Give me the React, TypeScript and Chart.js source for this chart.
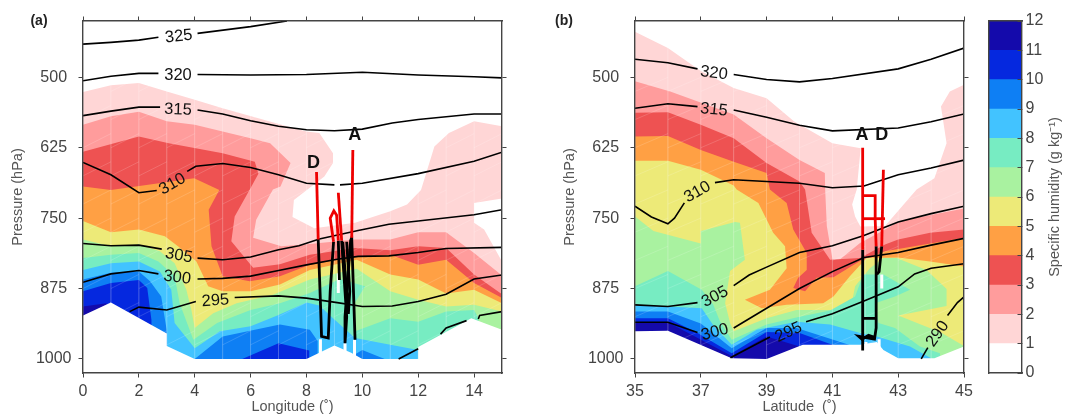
import React, { useEffect, useRef } from "react";
import { Chart, registerables } from "chart.js";

Chart.register(...registerables);

type Pt = [number, number];

// ---------- shared ----------
const pressureTicks = [500, 625, 750, 875, 1000];
const lonTicks = [0, 2, 4, 6, 8, 10, 12, 14];
const latTicks = [35, 37, 39, 41, 43, 45];
const humidityTicks = [0, 1, 2, 3, 4, 5, 6, 7, 8, 9, 10, 11, 12];
const levelColors = ["#ffffff", "#ffd6d6", "#ff9c9c", "#ee5252", "#ffa044", "#edea78", "#a9f2a0", "#77ecc2", "#42c3ff", "#0e7ff4", "#0528df", "#140aab"];
const levelBins = [1, 1, 1, 1, 1, 1, 1, 1, 1, 1, 1, 1];
const meshPressures = [525, 575, 625, 675, 725, 775, 825, 875, 925, 975, 1025];

// ---------- panel a: humidity regions (longitude, hPa) ----------
const aQ1: Pt[] = [[0, 526], [1, 514], [2, 510], [3, 525], [4, 540], [5, 555], [7.3, 587], [8, 596], [8.46, 599], [8.95, 635], [8.95, 652], [8.64, 676], [7.55, 718], [7.5, 748], [8.28, 768], [9.74, 758], [11, 738], [11.6, 726], [12.1, 700], [12.58, 623], [13.1, 599], [14, 578], [15, 587], [15, 715], [14, 723], [14, 758], [14.36, 770], [15, 827], [15, 1025], [0, 1025]];
const aQ2: Pt[] = [[0, 584], [1, 569], [2, 561], [3, 578], [4, 584], [5, 596], [6, 608], [6.7, 617], [7.43, 652], [7.07, 694], [6.8, 699], [6.2, 753], [6.09, 785], [7.1, 800], [8.12, 796], [9.74, 788], [11, 788], [12, 775], [13, 775], [14, 812], [15, 852], [15, 1025], [0, 1025]];
const aQ3: Pt[] = [[0, 632], [2, 605], [3.07, 617], [5, 635], [6.15, 650], [6.28, 671], [5.97, 699], [5.43, 747], [5.31, 791], [6.09, 838], [7.05, 832], [8.12, 815], [9.74, 803], [11, 807], [12, 800], [13, 803], [14, 850], [15, 885], [15, 1025], [0, 1025]];
const aQ4: Pt[] = [[0, 694], [1, 700], [3.98, 679], [4.88, 700], [4.5, 735], [4.6, 800], [5, 853], [5.97, 862], [7.05, 853], [8.12, 833], [9.8, 818], [11, 815], [12, 833], [13, 824], [14, 865], [15, 892], [15, 1025], [0, 1025]];
const aQ5: Pt[] = [[0, 755], [1, 775], [2, 770], [2.93, 782], [3.4, 800], [4.06, 827], [4.48, 871], [5, 880], [6, 880], [7.05, 868], [8.12, 842], [9.8, 824], [11, 850], [12, 859], [13, 884], [14, 877], [15, 901], [15, 1025], [0, 1025]];
const aQ6: Pt[] = [[0, 788], [1, 800], [2, 797], [2.75, 809], [3.28, 830], [3.7, 877], [3.88, 913], [4, 945], [4.66, 919], [5.5, 901], [6.8, 886], [8.12, 859], [9.8, 840], [11, 880], [12, 895], [13, 907], [14, 904], [15, 916], [15, 1025], [0, 1025]];
const aQ7: Pt[] = [[0, 821], [1, 815], [2, 812], [2.7, 827], [3.28, 853], [3.46, 901], [3.95, 966], [4.8, 936], [6, 913], [7.05, 901], [8.12, 883], [9.2, 858], [10.1, 871], [9.74, 900], [9.74, 951], [11, 928], [12, 934], [13, 916], [14, 913], [14.16, 928], [14.16, 1025], [0, 1025]];
const aQ8: Pt[] = [[0, 842], [1, 830], [2, 827], [2.75, 845], [3.16, 877], [3.28, 936], [4, 981], [4.9, 951], [6, 942], [7, 922], [8, 900], [8.46, 905], [9, 930], [9.74, 963], [11, 975], [12, 984], [12, 1025], [0, 1025]];
const aQ9Left: Pt[] = [[0, 859], [1, 847], [2, 845], [2.4, 862], [2.8, 889], [3, 950], [3, 1025], [0, 1025]];
const aQ9Mid: Pt[] = [[4, 1000], [5, 960], [7.05, 939], [8.12, 948], [8.4, 968], [8.4, 1025], [4, 1025]];
const aQ9Right: Pt[] = [[9.7, 993], [10, 984], [10.8, 1000], [10.8, 1025], [9.7, 1025]];
const aQ10Left: Pt[] = [[0, 880], [1, 865], [2, 860], [2.3, 874], [2.45, 931], [2.45, 1025], [0, 1025]];
const aQ10Mid: Pt[] = [[5.7, 1000], [7, 972], [8.1, 985], [8.1, 1025], [5.7, 1025]];
const aQ11: Pt[] = [[0, 907], [0.85, 901], [0.85, 1025], [0, 1025]];
const aTerrain: Pt[] = [[0, 923], [1, 900], [3, 955], [3, 977], [4, 1000], [8, 1000], [8.46, 989], [9, 976], [9.6, 989], [10, 1000], [12, 1000], [12, 979], [13.9, 928], [15, 948], [15, 1025], [0, 1025]];

// ---------- panel a: potential temperature contours ----------
const aT325: Pt[][] = [[[0, 441], [1, 438], [2, 434], [2.7, 429]], [[4.1, 422], [6, 410], [7.3, 400]]];
const aT320: Pt[][] = [[[0, 506], [1, 498], [2, 493], [2.7, 493]], [[4.1, 495], [6, 496], [8, 495], [10, 491], [12, 496], [14, 499], [15, 501]]];
const aT315: Pt[][] = [[[0, 568], [1, 560], [2, 553], [2.76, 553]], [[4.1, 558], [5, 565], [6, 577], [7, 587], [8, 593], [9, 595], [10, 592], [11.07, 581], [12, 575], [14, 565], [15, 565]]];
const aT310: Pt[][] = [[[0, 651], [1, 673], [2, 705], [2.64, 701]], [[3.73, 667], [4.04, 658], [5, 653], [6, 660], [7, 673], [8, 688], [9, 691]], [[9.2, 691], [10, 688], [12, 671], [14, 649], [15, 633]]];
const aT305: Pt[][] = [[[0, 795], [1, 799], [2, 798], [2.82, 805]], [[4.1, 821], [5, 824], [6, 819], [7, 806], [7.73, 799], [8.46, 787], [9.85, 772], [10.95, 761], [12, 755], [14, 744], [15, 735]]];
const aT300: Pt[][] = [[[0, 864], [1, 849], [2, 843], [2.7, 849]], [[4.1, 858], [5, 857], [6, 853], [7, 843], [8, 833], [9.1, 823], [9.85, 818], [10.95, 817], [12, 811], [13, 804], [15, 802]]];
const aT295: Pt[][] = [[[1.67, 916], [2, 908], [3, 913], [4.04, 898]], [[5.43, 891], [7, 888], [8, 892], [9.1, 900], [10, 907], [11.07, 906], [12, 898], [13, 885], [14, 858], [15, 851]]];
const aT290: Pt[][] = [[[11.3, 1000], [12, 982]], [[12.8, 956], [13, 945], [13.73, 932]], [[14.15, 929], [14.2, 923], [15, 916]]];

// ---------- panel a: aircraft tracks ----------
const aRed: Pt[][] = [[[8.36, 668], [8.42, 788]], [[8.97, 792], [8.85, 750], [8.98, 737], [9.08, 745], [9.14, 790]], [[9.14, 705], [9.26, 790]], [[9.66, 629], [9.62, 785]]];
const aBlack: Pt[][] = [[[8.42, 788], [8.5, 900], [8.54, 960], [8.78, 963], [8.85, 880], [8.97, 792]], [[9.14, 790], [9.18, 860]], [[9.26, 790], [9.44, 925], [9.38, 972], [9.38, 925], [9.58, 790], [9.62, 785], [9.74, 966]], [[9.3, 792], [9.5, 920], [9.55, 880], [9.44, 792]]];
const aHalo: Pt[][] = [[[9.14, 848], [9.14, 883]], [[9.14, 690], [9.14, 703]], [[8.5, 965], [8.5, 1000]], [[9.38, 972], [9.38, 1000]], [[9.72, 966], [9.72, 1000]]];

// ---------- panel b: humidity regions (latitude, hPa) ----------
const bQ1: Pt[] = [[35, 419], [36, 448], [37, 489], [38, 519], [39, 537], [39.83, 578], [41, 617], [41.86, 626], [41.74, 699], [41.6, 726], [41.69, 747], [41.85, 765], [42.6, 764], [43.56, 699], [44.1, 679], [44.47, 617], [44.3, 552], [44.57, 525], [45, 513], [45, 1025], [35, 1025]];
const bQ2: Pt[] = [[35, 507], [36.07, 525], [38, 566], [39, 608], [40, 647], [40.77, 670], [40.78, 699], [40.83, 764], [41.03, 833], [41.84, 794], [42.6, 770], [43.05, 755], [45, 733], [45, 1025], [35, 1025]];
const bQ3: Pt[] = [[35, 563], [36, 562], [37, 584], [38, 608], [39, 652], [40, 685], [40.17, 699], [40.37, 776], [40.93, 824], [41.84, 821], [42.6, 797], [43, 788], [43.97, 776], [45, 770], [45, 1025], [35, 1025]];
const bQ4: Pt[] = [[35, 605], [36, 604], [37, 629], [38, 650], [39, 670], [39.1, 699], [39.61, 723], [39.81, 770], [40.22, 812], [40.22, 842], [39.96, 856], [39.81, 874], [40.17, 880], [40.52, 856], [41.03, 855], [41.84, 826], [42.6, 809], [45, 785], [45, 1025], [35, 1025]];
const bQ5: Pt[] = [[35, 648], [36, 648], [37, 664], [38, 692], [38.09, 699], [38.75, 723], [39.2, 776], [39.56, 800], [39.61, 839], [39.1, 877], [38.34, 895], [38.85, 910], [39.61, 904], [40.72, 901], [41.03, 889], [41.53, 853], [42.04, 821], [43, 820], [43.97, 827], [45, 836], [45, 1025], [35, 1025]];
const bQ6: Pt[] = [[35, 747], [35.56, 773], [37, 795], [37, 773], [38.04, 757], [38.19, 758], [38.34, 824], [37.89, 844], [37.74, 901], [37.89, 936], [38, 951], [39, 928], [39.91, 913], [41.23, 913], [41.58, 904], [41.69, 871], [42.14, 839], [42.55, 821], [42.95, 821], [43.86, 842], [44.47, 876], [44.47, 906], [43, 923], [44.3, 953], [45, 977], [45, 1025], [35, 1025]];
const bQ7: Pt[] = [[35, 871], [36, 844], [37.03, 877], [37.38, 904], [37.58, 933], [37.94, 966], [39, 939], [40, 925], [40.93, 914], [41.69, 889], [41.94, 850], [42.55, 850], [43.36, 877], [42.9, 889], [42.3, 901], [42.4, 936], [42.9, 945], [43.66, 978], [44.27, 990], [44.27, 1025], [35, 1025]];
const bQ8: Pt[] = [[35, 904], [36, 907], [37.03, 910], [37.38, 940], [37.94, 975], [38.7, 948], [39.91, 934], [40.93, 939], [41.84, 954], [42.35, 960], [43.36, 978], [44, 999], [44, 1025], [35, 1025]];
const bQ9: Pt[] = [[35, 916], [36, 916], [37, 937], [37.94, 981], [39, 945], [39.91, 945], [41.5, 975], [41.5, 1025], [35, 1025]];
const bQ10: Pt[] = [[35, 928], [36, 928], [36.9, 954], [37.94, 990], [39, 952], [40, 954], [41, 975], [41, 1025], [35, 1025]];
const bQ11: Pt[] = [[35, 935], [36, 935], [37.94, 995], [39, 960], [40, 978], [40, 1025], [35, 1025]];
const bTerrain: Pt[] = [[35, 951], [36, 950], [37.94, 999], [39, 1000], [40.1, 975], [41.84, 975], [42.35, 970], [42.55, 984], [43, 999], [44.1, 999], [45, 978], [45, 1025], [35, 1025]];

// ---------- panel b: potential temperature contours ----------
const bT320: Pt[][] = [[[35, 468], [36, 474], [36.9, 485]], [[38, 495], [39, 504], [40, 508], [41, 502], [43, 485], [44, 468], [45, 448]]];
const bT315: Pt[][] = [[[35, 555], [36, 547], [36.9, 552]], [[38, 558], [39, 571], [40, 585], [41, 595], [43, 590], [44, 579], [45, 565]]];
const bT310: Pt[][] = [[[35, 729], [35.5, 748], [36, 760], [36.2, 750], [36.5, 723]], [[37.43, 687], [38, 682], [39, 685], [40, 688], [41, 696], [41.96, 693], [43, 673], [44, 661], [45, 647]]];
const bT305: Pt[][] = [[[35, 904], [36, 907], [36.9, 900]], [[38, 870], [38.47, 851], [39, 837], [40, 811], [41, 799], [41.96, 781], [43, 757], [44, 742], [45, 729]]];
const bT300: Pt[][] = [[[35, 935], [36, 935], [36.9, 953]], [[38, 945], [39, 910], [40, 875], [41, 845], [41.96, 820], [43, 811], [44, 798], [45, 786]]];
const bT295: Pt[][] = [[[37.9, 998], [39.1, 961]], [[40.2, 934], [41, 920], [41.96, 897], [43, 872], [43.5, 849], [44, 839], [45, 831]]];
const bT290: Pt[][] = [[[43.7, 1000], [43.9, 980]], [[44.5, 923], [44.8, 900], [45, 890]]];

// ---------- panel b: aircraft tracks ----------
const bRed: Pt[][] = [[[42.55, 664], [42.5, 800]], [[41.92, 625], [41.92, 806]], [[41.92, 710], [42.3, 710], [42.3, 752], [42.33, 800]], [[41.95, 751], [42.6, 751]]];
const bBlack: Pt[][] = [[[41.92, 806], [41.92, 985]], [[42.33, 800], [42.33, 945], [42.28, 965], [41.8, 960], [41.9, 965], [42.1, 958], [42.3, 962]], [[41.95, 928], [42.3, 928]], [[42.5, 800], [42.42, 845], [42.35, 850]]];
const bHalo: Pt[][] = [[[42.02, 970], [42.02, 1000]], [[42.42, 965], [42.42, 1000]], [[42.5, 850], [42.5, 875]]];

// ---------- inline labels: text, position, angle ----------
type Lab = [string, number, number, number];
const aContourLabels: Lab[] = [["325", 3.43, 425, -6], ["320", 3.4, 494, 0], ["315", 3.4, 555, 2], ["310", 3.2, 687, -30], ["305", 3.43, 814, 10], ["300", 3.37, 853, 7], ["295", 4.74, 894, -4]];
const bContourLabels: Lab[] = [["320", 37.4, 490, 7], ["315", 37.4, 555, 6], ["310", 36.9, 701, -30], ["305", 37.43, 887, -28], ["300", 37.43, 950, -15], ["295", 39.67, 950, -25], ["290", 44.2, 953, -55]];
const aPointLabels: Lab[] = [["A", 9.73, 600, 0], ["D", 8.25, 650, 0]];
const bPointLabels: Lab[] = [["A", 41.9, 600, 0], ["D", 42.5, 600, 0]];

const AXIS = "#444444";
const TEXT = "#444444";
const FONT = '"Liberation Sans", Arial, sans-serif';

const toXY = (p: Pt[]) => p.map(([x, y]) => ({ x, y }));
const fillDs = (p: Pt[], color: string) => ({ data: toXY(p), fill: "shape", backgroundColor: color, borderColor: "transparent", borderWidth: 0, pointRadius: 0, tension: 0 });
const lineDs = (p: Pt[], color: string, w: number) => ({ data: toXY(p), fill: false, borderColor: color, borderWidth: w, pointRadius: 0, tension: 0 });

function labelPlugin(contour: Lab[], points: Lab[], panel: string, panelX: number) {
  return {
    id: "inlineLabels",
    afterDatasetsDraw(chart: any) {
      const { ctx, scales } = chart;
      ctx.save();
      ctx.textAlign = "center";
      ctx.textBaseline = "middle";
      ctx.fillStyle = "#111";
      ctx.font = `16.5px ${FONT}`;
      for (const [t, x, y, a] of contour) {
        ctx.save();
        ctx.translate(scales.x.getPixelForValue(x), scales.y.getPixelForValue(y) + 1.5);
        ctx.rotate((a * Math.PI) / 180);
        ctx.fillText(t, 0, 0);
        ctx.restore();
      }
      ctx.font = `bold 18px ${FONT}`;
      for (const [t, x, y] of points) ctx.fillText(t, scales.x.getPixelForValue(x), scales.y.getPixelForValue(y) + 1);
      ctx.font = `bold 14px ${FONT}`;
      ctx.fillStyle = "#222";
      ctx.fillText(panel, panelX, 21);
      ctx.restore();
    },
  };
}

const setTicks = (vals: number[]) => (s: any) => {
  s.ticks = vals.map((value) => ({ value }));
};

function meshLines(xMin: number, xMax: number, step: number) {
  const out: any[] = [];
  const vertical = "rgba(255,255,255,0.13)";
  const slanted = "rgba(255,255,255,0.2)";
  for (let x = xMin; x <= xMax; x += step) out.push(lineDs([[x, 420], [x, 1025]], vertical, 0.8));
  for (let x = xMin; x < xMax; x += step)
    for (const p of meshPressures) out.push(lineDs([[x, p], [x + step, p - 25]], slanted, 0.8));
  return out;
}

function panelConfig(opts: { fills: [Pt[], string][]; terrain: Pt[]; contours: Pt[][][]; halo: Pt[][]; red: Pt[][]; black: Pt[][]; xTicks: number[]; xMin: number; xMax: number; xTitle: string; left: number; right: number; yTitlePad: number; plugin: any }) {
  const ds: any[] = [];
  opts.fills.forEach(([p, c]) => ds.push(fillDs(p, c)));
  ds.push(...meshLines(opts.xMin, opts.xMax, 1));
  ds.push(fillDs(opts.terrain, "#ffffff"));
  opts.contours.forEach((segs) => segs.forEach((s) => ds.push(lineDs(s, "#000000", 1.6))));
  opts.halo.forEach((s) => ds.push(lineDs(s, "#ffffff", 3)));
  opts.black.forEach((s) => ds.push(lineDs(s, "#000000", 2.8)));
  opts.red.forEach((s) => ds.push(lineDs(s, "#ee0000", 2.8)));
  ds.reverse();
  const common = { border: { color: AXIS, width: 1.4, z: 3 } };
  const grid = { drawOnChartArea: false, tickLength: 4.5, tickColor: AXIS, tickWidth: 1, z: 3 };
  const noFit = (key: "width" | "height") => (s: any) => {
    s[key] = 0;
  };
  return {
    type: "line",
    data: { datasets: ds },
    plugins: [opts.plugin],
    options: {
      responsive: false,
      animation: false,
      events: [],
      layout: { padding: { top: 21, right: opts.right, left: 0, bottom: 0 } },
      plugins: { legend: { display: false }, tooltip: { enabled: false } },
      scales: {
        x: {
          type: "linear", position: "bottom", min: opts.xMin, max: opts.xMax, ...common, grid,
          afterBuildTicks: setTicks(opts.xTicks),
          afterFit: (s: any) => { s.height = 43; },
          ticks: { autoSkip: false, maxRotation: 0, padding: 4, color: TEXT, font: { family: FONT, size: 16 }, callback: (v: any) => String(v) },
          title: { display: true, text: opts.xTitle, color: "#555", font: { family: FONT, size: 14.5 }, padding: { top: -1, bottom: 0 } },
        },
        xTop: {
          type: "linear", position: "top", min: opts.xMin, max: opts.xMax, ...common, grid,
          afterBuildTicks: setTicks(opts.xTicks), afterFit: noFit("height"), ticks: { display: false, autoSkip: false },
        },
        y: {
          type: "linear", position: "left", reverse: true, min: 400, max: 1025, ...common, grid,
          afterBuildTicks: setTicks(pressureTicks),
          afterFit: (s: any) => { s.width = opts.left; },
          ticks: { autoSkip: false, crossAlign: "center", padding: 7, color: TEXT, font: { family: FONT, size: 16 }, callback: (v: any) => String(v) },
          title: { display: true, text: "Pressure (hPa)", color: "#555", font: { family: FONT, size: 14.5 }, padding: { top: opts.yTitlePad, bottom: 0 } },
        },
        yRight: {
          type: "linear", position: "right", reverse: true, min: 400, max: 1025, ...common, grid,
          afterBuildTicks: setTicks(pressureTicks), afterFit: noFit("width"), ticks: { display: false, autoSkip: false },
        },
      },
    },
  } as any;
}

const colorbarTitlePlugin = {
  id: "colorbarTitle",
  afterDraw(chart: any) {
    const { ctx } = chart;
    ctx.save();
    ctx.translate(70, 197);
    ctx.rotate(-Math.PI / 2);
    ctx.textAlign = "center";
    ctx.textBaseline = "middle";
    ctx.fillStyle = "#555";
    ctx.font = `14.5px ${FONT}`;
    ctx.fillText("Specific humidity (g kg⁻¹)", 0, 0);
    ctx.restore();
  },
};

function colorbarConfig() {
  const border = { color: AXIS, width: 1.4, z: 3 };
  return {
    type: "bar",
    data: {
      labels: ["q"],
      datasets: levelBins.map((v, i) => ({ data: [v], backgroundColor: levelColors[i], borderWidth: 0, barPercentage: 1, categoryPercentage: 1, xAxisID: "x", yAxisID: "y" })),
    },
    plugins: [colorbarTitlePlugin],
    options: {
      responsive: false,
      animation: false,
      events: [],
      layout: { padding: { top: 21, right: 0, left: 0, bottom: 0 } },
      plugins: { legend: { display: false }, tooltip: { enabled: false } },
      scales: {
        x: { stacked: true, position: "bottom", border, grid: { drawOnChartArea: false, drawTicks: false }, ticks: { display: false }, afterFit: (s: any) => { s.height = 43; } },
        xTop: { type: "category", labels: ["q"], position: "top", border, grid: { drawOnChartArea: false, drawTicks: false }, ticks: { display: false }, afterFit: (s: any) => { s.height = 0; } },
        y: {
          type: "linear", stacked: true, min: 0, max: 12, position: "right", border,
          grid: { drawOnChartArea: false, tickLength: -4.5, tickColor: AXIS, z: 3 },
          afterBuildTicks: setTicks(humidityTicks),
          afterFit: (s: any) => { s.width = 45; },
          ticks: { autoSkip: false, padding: 8, color: TEXT, font: { family: FONT, size: 16 }, callback: (v: any) => String(v) },
        },
        yLeft: { type: "linear", min: 0, max: 12, position: "left", border, grid: { drawOnChartArea: false, drawTicks: false }, ticks: { display: false }, afterFit: (s: any) => { s.width = 4; } },
      },
    },
  } as any;
}

function Panel({ build, left, width }: { build: () => any; left: number; width: number }) {
  const ref = useRef<HTMLCanvasElement>(null);
  useEffect(() => {
    const chart = new Chart(ref.current!, build());
    return () => chart.destroy();
  }, [build]);
  return <canvas ref={ref} width={width} height={416} style={{ position: "absolute", left, top: 0, width, height: 416 }} />;
}

const buildA = () =>
  panelConfig({
    fills: [[aQ1, levelColors[1]], [aQ2, levelColors[2]], [aQ3, levelColors[3]], [aQ4, levelColors[4]], [aQ5, levelColors[5]], [aQ6, levelColors[6]], [aQ7, levelColors[7]], [aQ8, levelColors[8]], [aQ9Left, levelColors[9]], [aQ9Mid, levelColors[9]], [aQ9Right, levelColors[9]], [aQ10Left, levelColors[10]], [aQ10Mid, levelColors[10]], [aQ11, levelColors[11]]],
    terrain: aTerrain,
    contours: [aT325, aT320, aT315, aT310, aT305, aT300, aT295, aT290],
    halo: aHalo, red: aRed, black: aBlack,
    xTicks: lonTicks, xMin: 0, xMax: 15, xTitle: "Longitude (˚)",
    left: 83, right: 38, yTitlePad: 9.5,
    plugin: labelPlugin(aContourLabels, aPointLabels, "(a)", 39),
  });

const buildB = () =>
  panelConfig({
    fills: [[bQ1, levelColors[1]], [bQ2, levelColors[2]], [bQ3, levelColors[3]], [bQ4, levelColors[4]], [bQ5, levelColors[5]], [bQ6, levelColors[6]], [bQ7, levelColors[7]], [bQ8, levelColors[8]], [bQ9, levelColors[9]], [bQ10, levelColors[10]], [bQ11, levelColors[11]]],
    terrain: bTerrain,
    contours: [bT320, bT315, bT310, bT305, bT300, bT295, bT290],
    halo: bHalo, red: bRed, black: bBlack,
    xTicks: latTicks, xMin: 35, xMax: 45, xTitle: "Latitude  (˚)",
    left: 95, right: 21, yTitlePad: 21.5,
    plugin: labelPlugin(bContourLabels, bPointLabels, "(b)", 24),
  });

export default function App() {
  return (
    <div style={{ position: "fixed", left: 0, top: 0, width: 1067, height: 416, background: "#fff" }}>
      <Panel build={buildA} left={0} width={540} />
      <Panel build={buildB} left={540} width={445} />
      <Panel build={colorbarConfig} left={985} width={82} />
    </div>
  );
}
